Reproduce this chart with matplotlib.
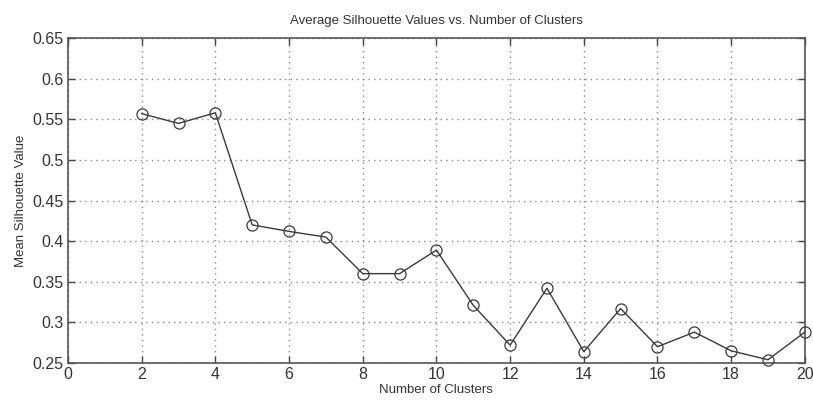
import matplotlib
matplotlib.use('Agg')
import matplotlib.pyplot as plt

# data
clusters = [2, 3, 4, 5, 6, 7, 8, 9, 10, 11, 12, 13, 14, 15, 16, 17, 18, 19, 20]
mean_silhouette = [0.557, 0.545, 0.558, 0.420, 0.412, 0.405, 0.360, 0.360, 0.389,
                   0.321, 0.272, 0.342, 0.264, 0.317, 0.270, 0.288, 0.265, 0.254, 0.288]
x_ticks = list(range(0, 21, 2))
y_ticks = [0.25, 0.3, 0.35, 0.4, 0.45, 0.5, 0.55, 0.6, 0.65]
y_tick_labels = ['0.25', '0.3', '0.35', '0.4', '0.45', '0.5', '0.55', '0.6', '0.65']

plt.rcParams['font.family'] = ['Liberation Sans', 'DejaVu Sans']

fig = plt.figure(figsize=(8.13, 4.01), dpi=100)
ax = fig.add_axes([0.0836, 0.0948, 0.9064, 0.8102])

ax.plot(clusters, mean_silhouette, color='#3a3a3a', linewidth=1.0,
        marker='o', markersize=8, markerfacecolor='none',
        markeredgecolor='#3a3a3a', markeredgewidth=0.9, clip_on=False, zorder=5)

ax.set_xlim(0, 20)
ax.set_ylim(0.25, 0.65)
ax.set_xticks(x_ticks)
ax.set_yticks(y_ticks)
ax.set_yticklabels(y_tick_labels)
ax.grid(True, linestyle=(0, (1, 3)), color='#888888', linewidth=1.0)
ax.tick_params(direction='in', top=True, right=True, length=5, width=1,
               colors='#444444', labelsize=11.5, labelcolor='#333333', pad=3)
for s in ax.spines.values():
    s.set_color('#555555')
    s.set_linewidth(1.2)

ax.set_title('Average Silhouette Values vs. Number of Clusters', fontsize=9.5,
             color='#333333', pad=10)
ax.set_xlabel('Number of Clusters', fontsize=9.5, color='#333333', labelpad=1)
ax.set_ylabel('Mean Silhouette Value', fontsize=9.5, color='#333333', labelpad=4)

fig.savefig('out.png', dpi=100, facecolor='white')
